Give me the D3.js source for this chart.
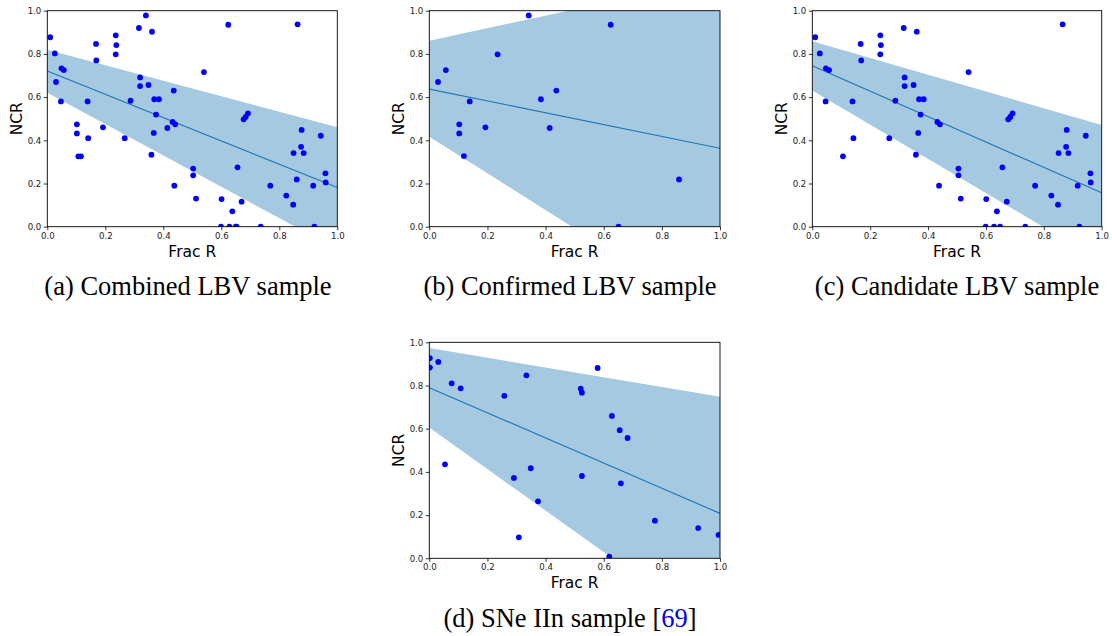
<!DOCTYPE html>
<html><head><meta charset="utf-8">
<script src="https://cdn.jsdelivr.net/npm/d3@7"></script>
<style>
html,body{margin:0;padding:0;background:#fff;}
svg{display:block;}
</style></head>
<body>
<svg id="chart" width="1112" height="636"></svg>
<script>
// ---------- data ----------
const tickValues = [0.0, 0.2, 0.4, 0.6, 0.8, 1.0];
const tickLabels = ["0.0", "0.2", "0.4", "0.6", "0.8", "1.0"];
const xLabel = "Frac R";
const yLabel = "NCR";

const combinedX = [0.010,0.026,0.030,0.047,0.049,0.057,0.102,0.102,0.107,0.116,0.139,0.141,0.168,0.169,0.192,0.236,0.238,0.236,0.267,0.287,0.316,0.320,0.320,0.340,0.349,0.361,0.359,0.367,0.369,0.385,0.375,0.414,0.436,0.432,0.441,0.438,
  0.624,0.863,0.540,0.677,0.684,0.692,0.877,0.943,0.875,0.849,0.884,0.503,0.503,0.656,0.959,0.960,0.860,0.769,0.917,0.513,0.601,0.670,0.824,0.848,0.638,0.599,0.628,0.650,0.653,0.736,0.921];
const combinedY = [0.877,0.802,0.670,0.580,0.733,0.725,0.474,0.432,0.326,0.326,0.580,0.410,0.846,0.770,0.460,0.886,0.841,0.798,0.410,0.583,0.920,0.691,0.651,0.978,0.656,0.903,0.333,0.434,0.590,0.590,0.519,0.457,0.630,0.485,0.474,0.190,
  0.935,0.937,0.716,0.497,0.508,0.525,0.448,0.421,0.370,0.341,0.341,0.269,0.238,0.275,0.247,0.205,0.219,0.190,0.190,0.130,0.128,0.116,0.144,0.102,0.071,0.0,0.0,0.0,0.0,0.0,0.0];

const confirmedX = [0.030,0.057,0.103,0.103,0.119,0.139,0.193,0.235,0.342,0.384,0.414,0.437,0.624,0.859,0.651];
const confirmedY = [0.670,0.725,0.474,0.432,0.327,0.580,0.460,0.798,0.978,0.590,0.457,0.630,0.935,0.219,0.0];

const candidateX = [0.010,0.026,0.047,0.058,0.046,0.106,0.139,0.142,0.167,0.169,0.235,0.237,0.235,0.266,0.287,0.316,0.319,0.319,0.350,0.361,0.358,0.366,0.369,0.385,0.374,0.432,0.441,0.438,
  0.865,0.540,0.677,0.684,0.692,0.879,0.945,0.877,0.851,0.885,0.505,0.505,0.657,0.961,0.962,0.770,0.917,0.513,0.601,0.672,0.826,0.849,0.638,0.599,0.628,0.649,0.736,0.923];
const candidateY = [0.877,0.802,0.733,0.725,0.580,0.326,0.580,0.410,0.846,0.770,0.886,0.841,0.798,0.410,0.583,0.920,0.691,0.651,0.656,0.903,0.333,0.434,0.590,0.590,0.519,0.485,0.474,0.190,
  0.937,0.716,0.497,0.508,0.525,0.448,0.421,0.370,0.341,0.341,0.269,0.238,0.275,0.247,0.205,0.190,0.190,0.130,0.128,0.116,0.144,0.102,0.071,0.0,0.0,0.0,0.0,0.0];

const snX = [0.002,0.002,0.031,0.077,0.108,0.054,0.258,0.334,0.291,0.349,0.374,0.308,0.579,0.521,0.525,0.628,0.655,0.682,0.525,0.659,0.776,0.925,0.995,0.619];
const snY = [0.927,0.883,0.909,0.810,0.787,0.435,0.752,0.847,0.372,0.417,0.264,0.097,0.881,0.785,0.767,0.659,0.593,0.557,0.381,0.347,0.174,0.140,0.108,0.008];

// regression fits: intercept / slope of central line and band edges
const fitIntercept = [0.721, 0.637, 0.745, 0.790];
const fitSlope     = [-0.540, -0.274, -0.588, -0.582];
const upperIntercept = [0.819, 0.861, 0.858, 0.974];
const upperSlope     = [-0.359, 0.290, -0.387, -0.226];
const lowerIntercept = [0.620, 0.417, 0.630, 0.605];
const lowerSlope     = [-0.725, -0.850, -0.790, -0.960];

const captions = ["(a) Combined LBV sample", "(b) Confirmed LBV sample", "(c) Candidate LBV sample", "(d) SNe IIn sample "];
const refText = "[69]";

// ---------- layout ----------
const panels = [
  {left: 47.3,  top: 10.7,  w: 290,   h: 216, xs: combinedX,  ys: combinedY,  cx: 188, cy: 295},
  {left: 429.3, top: 10.7,  w: 290.7, h: 216, xs: confirmedX, ys: confirmedY, cx: 570, cy: 295},
  {left: 812.3, top: 10.7,  w: 289.4, h: 216, xs: candidateX, ys: candidateY, cx: 957, cy: 295},
  {left: 429.3, top: 342.3, w: 290.7, h: 216, xs: snX,        ys: snY,        cx: 570, cy: 627}
];

const svg = d3.select("#chart");
const bandColor = "#a5c9e1";
const lineColor = "#1f77b4";
const dotColor = "#0000ff";

panels.forEach((p, i) => {
  const x = d3.scaleLinear().domain([0, 1]).range([p.left, p.left + p.w]);
  const y = d3.scaleLinear().domain([0, 1]).range([p.top + p.h, p.top]);
  const clipId = "clip" + i;
  svg.append("clipPath").attr("id", clipId)
    .append("rect").attr("x", p.left).attr("y", p.top).attr("width", p.w).attr("height", p.h);

  const g = svg.append("g");
  const plot = g.append("g").attr("clip-path", `url(#${clipId})`);

  const up = t => upperIntercept[i] + upperSlope[i] * t;
  const lo = t => lowerIntercept[i] + lowerSlope[i] * t;
  const mid = t => fitIntercept[i] + fitSlope[i] * t;

  const bandPts = [[0, up(0)], [1, up(1)], [1, lo(1)], [0, lo(0)]];
  plot.append("path")
    .attr("d", d3.line().x(d => x(d[0])).y(d => y(d[1]))(bandPts) + "Z")
    .attr("fill", bandColor).attr("stroke", "none");

  plot.append("path")
    .attr("d", d3.line().x(d => x(d[0])).y(d => y(d[1]))([[0, mid(0)], [1, mid(1)]]))
    .attr("stroke", lineColor).attr("stroke-width", 1.1).attr("fill", "none");

  plot.selectAll("circle").data(d3.range(p.xs.length)).enter().append("circle")
    .attr("cx", k => x(p.xs[k])).attr("cy", k => y(p.ys[k]))
    .attr("r", 2.9).attr("fill", dotColor);

  // axes
  const xAxis = d3.axisBottom(x).tickValues(tickValues).tickFormat((d, k) => tickLabels[k]).tickSize(3.5).tickPadding(2.5);
  const yAxis = d3.axisLeft(y).tickValues(tickValues).tickFormat((d, k) => tickLabels[k]).tickSize(3.5).tickPadding(2.5);
  const gx = g.append("g").attr("transform", `translate(0,${p.top + p.h})`).call(xAxis);
  const gy = g.append("g").attr("transform", `translate(${p.left},0)`).call(yAxis);
  [gx, gy].forEach(a => {
    a.select(".domain").remove();
    a.selectAll("line").attr("stroke", "#000").attr("stroke-width", 0.8);
    a.selectAll("text").attr("font-family", "DejaVu Sans").attr("font-size", 8.6).attr("fill", "#222");
  });

  // spines
  g.append("rect").attr("x", p.left).attr("y", p.top).attr("width", p.w).attr("height", p.h)
    .attr("fill", "none").attr("stroke", "#000").attr("stroke-width", 0.9);

  g.append("text").attr("x", p.left + p.w / 2).attr("y", p.top + p.h + 30)
    .attr("text-anchor", "middle").attr("font-family", "DejaVu Sans").attr("font-size", 15.5)
    .attr("fill", "#000").text(xLabel);
  g.append("text")
    .attr("transform", `translate(${p.left - 25},${p.top + p.h / 2}) rotate(-90)`)
    .attr("text-anchor", "middle").attr("font-family", "DejaVu Sans").attr("font-size", 15.5)
    .attr("fill", "#000").text(yLabel);

  const cap = svg.append("text").attr("x", p.cx).attr("y", p.cy)
    .attr("text-anchor", "middle").attr("font-family", "'Liberation Serif', 'Times New Roman', serif").attr("font-size", 26.5)
    .attr("fill", "#000");
  cap.append("tspan").text(captions[i]);
  if (i === 3) {
    cap.append("tspan").text("[");
    cap.append("tspan").attr("fill", "#0000ee").text(refText.slice(1, -1));
    cap.append("tspan").text("]");
  }
});
</script>
</body></html>
